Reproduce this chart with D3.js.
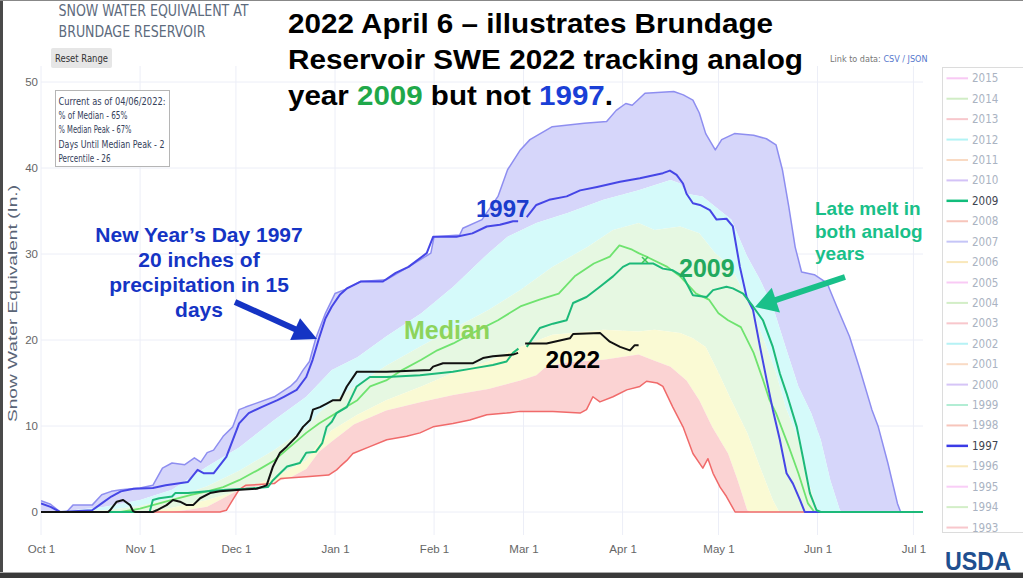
<!DOCTYPE html>
<html><head><meta charset="utf-8">
<script src="https://cdn.jsdelivr.net/npm/d3@7"></script>
<style>html,body{margin:0;padding:0;background:#fff;overflow:hidden}text{font-family:"Liberation Sans",Arial,sans-serif}</style>
</head><body>
<svg id="c" width="1023" height="578"></svg>
<script>
// ---------- DATA (x = days since Oct 1, y = SWE inches) ----------
const maxSWE = [[0,1.3],[3,0.9],[6,0],[8,0],[10,0.8],[16,0.8],[19,2.0],[22,2.4],[25,2.6],[31,2.8],[35,3.1],[38,5.1],[41,5.7],[45,5.5],[48,6.3],[50,5.8],[52,6.9],[54,7.2],[57,8.8],[60,9.9],[62,11.9],[64,12.2],[67,12.6],[73,13.4],[78,14.6],[80,15.3],[82,16.5],[84,17.5],[86,20.2],[89,23.1],[92,25.4],[96,26.0],[100,26.8],[108,27.0],[115,28.5],[122,30.1],[123,32.0],[131,32.2],[132,33.0],[138,34.0],[143,36.7],[146,39.8],[150,42.1],[153,43.3],[160,44.8],[170,45.2],[177,45.4],[180,46.7],[183,47.5],[185,47.3],[189,48.7],[198,48.9],[201,48.5],[204,47.9],[206,46.4],[208,44.0],[211,42.1],[213,43.3],[217,44.0],[223,43.8],[227,43.4],[230,42.7],[232,39.8],[234,35.5],[236,30.8],[238,27.9],[242,27.6],[246,26.6],[249,23.9],[253,20.4],[256,16.9],[260,11.9],[262,9.9],[265,5.7],[268,1.0],[269,0],[276,0]];
const p90 = [[0,0],[10,0.2],[20,0.6],[31,1.4],[41,2.6],[52,5.3],[62,7.5],[73,10.7],[83,13.4],[91,16.5],[99,18.0],[108,20.4],[119,23.1],[129,26.2],[140,30.1],[146,32.0],[155,33.6],[165,34.8],[176,36.3],[187,37.4],[197,38.6],[200,38.2],[202,37.0],[207,36.7],[211,35.5],[216,34.0],[221,29.7],[225,27.0],[229,23.9],[233,19.2],[237,14.6],[241,11.5],[244,8.4],[247,3.7],[250,0.2],[251,0],[276,0]];
const p70 = [[0,0],[20,0.2],[31,0.7],[41,1.6],[52,3.0],[62,4.8],[73,7.2],[83,9.8],[87,11.5],[91,12.8],[99,14.8],[108,17.0],[119,19.3],[129,21.3],[140,23.5],[150,25.8],[160,28.5],[171,30.8],[179,32.8],[187,33.6],[192,32.8],[200,33.2],[206,32.4],[211,30.1],[216,28.5],[219,26.2],[223,23.1],[227,19.2],[230,16.2],[233,12.2],[237,8.4],[240,3.7],[243,0.2],[244,0],[276,0]];
const medianSWE = [[0,0],[25,0],[31,0.4],[35,0.8],[41,1.4],[47,2.0],[52,2.4],[57,2.9],[62,3.7],[68,4.9],[73,6.0],[78,7.6],[83,9.2],[87,10.3],[91,11.2],[94,11.9],[99,13.0],[103,14.6],[108,15.3],[113,16.5],[119,17.7],[124,18.8],[129,19.6],[135,20.8],[143,22.3],[150,23.9],[156,24.7],[162,25.4],[167,27.4],[173,28.9],[178,29.7],[181,31.0],[185,30.5],[187,30.1],[190,29.6],[196,28.5],[200,27.4],[205,25.4],[209,24.7],[212,23.1],[215,22.3],[219,21.5],[223,18.5],[226,15.3],[228,13.0],[230,11.5],[234,7.6],[237,4.5],[240,1.0],[242,0],[276,0]];
const p30 = [[0,0],[30,0],[36,0.2],[41,0.5],[52,1.4],[62,2.5],[73,4.0],[83,6.0],[87,8.0],[91,9.5],[99,11.3],[108,13.0],[119,14.6],[129,16.2],[140,17.5],[150,19.2],[160,20.6],[171,21.0],[176,21.2],[187,21.0],[192,21.2],[200,20.8],[204,20.2],[208,19.2],[212,16.2],[216,13.0],[221,9.2],[225,5.2],[229,1.4],[231,0],[276,0]];
const p10 = [[0,0],[40,0],[45,0.2],[52,0.6],[57,1.6],[62,2.6],[68,3.0],[73,3.5],[78,4.0],[83,5.0],[87,7.0],[91,8.2],[98,10.2],[108,11.8],[119,12.8],[129,13.6],[140,14.3],[150,15.3],[155,15.9],[158,16.9],[165,17.4],[176,17.7],[187,18.3],[192,17.6],[197,16.9],[202,15.3],[206,13.0],[210,9.9],[215,6.8],[218,3.7],[221,0.2],[222,0],[276,0]];
const minSWE = [[0,0],[56,0],[58,0.2],[60,1.4],[62,2.6],[64,3.1],[73,3.3],[75,3.9],[83,4.1],[90,4.3],[92.5,4.9],[93.6,5.3],[95.7,6.0],[97.6,6.8],[102.9,7.6],[108.2,8.4],[114.4,8.8],[118.6,9.2],[122.7,9.9],[128.9,10.3],[134.2,10.7],[139.5,11.3],[145.7,11.5],[149.9,11.7],[160.2,11.7],[168.7,11.5],[170.7,11.9],[172.7,13.4],[174.9,12.8],[179,13.4],[183.3,14.2],[187.4,14.6],[189.5,15.2],[192.8,15.0],[194.6,14.6],[197.7,12.2],[200.9,9.9],[204,6.8],[207.1,5.1],[208.7,6.2],[210.3,4.5],[212.5,2.9],[214.5,1.8],[217.2,0],[276,0]];
const y1997 = [[0,1.0],[3,0.6],[6,0],[16,0.2],[19,1.0],[22,1.8],[25,2.4],[29,2.7],[35,2.8],[39,3.1],[46,3.5],[49,4.9],[51,4.5],[54,4.5],[58,6.4],[62,10.3],[65,11.5],[69,12.2],[74,13.0],[76,13.4],[80,14.2],[83,15.7],[85,17.7],[87,20.2],[89,22.5],[91,23.9],[93.6,25.3],[95.7,26.0],[100,26.8],[107,26.8],[111,27.8],[115,28.5],[120.7,30.1],[122.7,32.0],[130,32.0],[135,32.4],[139.5,33.2],[143.6,33.4],[147.7,33.8],[149.3,33.8],[150.3,null],[152,34.3],[155,35.7],[159,36.3],[164.5,36.7],[168.7,37.4],[174,37.8],[181.2,38.4],[187.4,38.8],[194.6,39.4],[196.8,39.7],[198.9,39.2],[200.9,38.2],[202,37.0],[204,35.9],[206.2,35.7],[209.3,35.1],[211.4,34.0],[214.5,34.1],[216.5,33.2],[218.7,28.5],[220.8,25.0],[222.8,23.5],[225,19.2],[227.1,15.3],[229,11.9],[231.2,8.4],[233.3,4.5],[235.3,3.3],[237.5,1.4],[239,0],[276,0]];
const y2009 = [[0,0],[34,0],[35,1.4],[37,1.6],[41,1.8],[42,2.2],[46,2.2],[52,2.4],[58,2.6],[64,2.7],[71,2.9],[72.6,3.7],[77,5.3],[81,5.7],[83,6.9],[86,7.0],[88,8.0],[89.4,9.9],[91,10.5],[92.5,11.5],[95.7,12.2],[98.8,14.6],[102.9,15.7],[108.2,15.7],[118.6,15.9],[128.9,16.3],[135.2,16.7],[141.4,17.1],[145.7,17.5],[147.7,18.5],[149.4,19.0],[150.6,null],[152,19.2],[156.1,21.4],[160.2,21.9],[164.5,22.3],[166.5,24.3],[170.7,25.0],[174.9,26.2],[179,27.4],[182.1,28.5],[184.3,28.9],[187.4,28.9],[191.5,28.9],[194.6,28.3],[197.7,28.1],[200.9,27.4],[204,25.2],[208.3,25.0],[210.3,25.8],[214.5,26.2],[216.5,26.0],[219.7,25.4],[222.8,23.9],[225.9,22.3],[229,19.2],[231.2,16.1],[233.3,13.8],[236.5,9.9],[238.4,6.4],[240.6,2.2],[242.7,0.2],[244,0],[276,0]];
const y2022 = [[0,0],[21,0],[21.6,0.2],[23.7,1.2],[25.7,1.4],[27.9,0.8],[28.8,0.1],[29.5,0],[35,0],[36.2,0.2],[39.3,0.8],[41.3,1.4],[43.5,1.2],[45.6,0.8],[47.6,0.8],[49.8,1.6],[52.9,2.2],[56,2.4],[62.3,2.6],[67.5,2.7],[70.6,3.1],[72.6,5.3],[74.8,6.9],[76.9,7.6],[80,8.8],[82,9.9],[84.2,10.7],[85.1,11.9],[87.3,12.2],[89.4,12.6],[91.4,13.0],[93.6,13.0],[95.7,14.6],[98.8,16.3],[108.2,16.3],[121.7,16.5],[122.7,16.9],[125.8,17.3],[135.2,17.3],[138.3,17.9],[141.4,18.1],[147.7,18.3],[149.3,18.5],[150.4,null],[151.5,19.6],[158.2,19.6],[165.5,20.2],[166.5,20.7],[175,20.8],[178,19.8],[181.2,19.2],[184.3,18.8],[185.8,19.4],[187,19.4]];
const medianPeak = [[189,29.3]];
const legendYears = [2015,2014,2013,2012,2011,2010,2009,2008,2007,2006,2005,2004,2003,2002,2001,2000,1999,1998,1997,1996,1995,1994,1993];
const legendColors = ['#f4a6ee','#b3e2a0','#f4a3ab','#7fecef','#f6c29c','#b79af2','#12bd7c','#f3a08f','#a0a0f3','#f6d98e','#f6a8f0','#b6e4a3','#f4a3ab','#86eaf0','#f6c4a0','#bba0f3','#7fe2b8','#f3a08f','#3b3be6','#f6d98e','#f6aef2','#b6e4a3','#f4a3ab'];
const activeYears = [2009,1997];
const yTicks = [0,10,20,30,40,50];
const infoLines = ["Current as of 04/06/2022:","% of Median - 65%","% Median Peak - 67%","Days Until Median Peak - 2","Percentile - 26"];

// ---------- SETUP ----------
const svg = d3.select('#c');
const T0 = Date.UTC(2021,9,1);
const toDate = d => new Date(T0 + d*864e5);
const L=41, R=923, T=66, B=535;
const x = d3.scaleUtc().domain([toDate(0), toDate(276)]).range([L, R]);
const y = d3.scaleLinear().domain([0,50]).range([512,82]);
const px = d => [x(toDate(d[0])), y(d[1])];

svg.append('rect').attr('width',1023).attr('height',578).attr('fill','#fff');

// gridlines
const monthTicks = d3.utcMonth.range(toDate(0), toDate(277));
const grid = svg.append('g');
grid.selectAll('.vg').data(monthTicks).join('line')
  .attr('x1',d=>x(d)).attr('x2',d=>x(d)).attr('y1',T).attr('y2',B)
  .attr('stroke','#eceef7').attr('stroke-width',1);
grid.selectAll('.hg').data(yTicks).join('line')
  .attr('x1',L).attr('x2',R).attr('y1',d=>y(d)).attr('y2',d=>y(d))
  .attr('stroke','#eceef7').attr('stroke-width',1);

// clip
svg.append('clipPath').attr('id','pc').append('rect').attr('x',L).attr('y',T).attr('width',R-L).attr('height',B-T);
const plot = svg.append('g').attr('clip-path','url(#pc)');

function band(upper, lower){
  const u = upper.filter(d=>d[1]!=null).map(px);
  const l = lower.filter(d=>d[1]!=null).map(px).reverse();
  return d3.line()(u.concat(l)) + 'Z';
}
const bands = [[maxSWE,p90,'#d6d6fa'],[p90,p70,'#d5fafa'],[p70,p30,'#e6f8e2'],[p30,p10,'#fafad4'],[p10,minSWE,'#fbd3d3']];
plot.selectAll('.band').data(bands).join('path')
  .attr('d',d=>band(d[0],d[1])).attr('fill',d=>d[2]).attr('stroke','none');

const line = d3.line().defined(d=>d[1]!=null).x(d=>x(toDate(d[0]))).y(d=>y(d[1]));
const series = [
  [maxSWE,'#8e8ef0',1.5],
  [minSWE,'#f06a6a',1.5],
  [medianSWE,'#6fe36f',1.8],
  [y1997,'#4646e6',2],
  [y2009,'#1cb979',2],
  [y2022,'#111111',2]
];
plot.selectAll('.ln').data(series).join('path')
  .attr('d',d=>line(d[0])).attr('fill','none').attr('stroke',d=>d[1]).attr('stroke-width',d=>d[2]).attr('stroke-linejoin','round');

// median peak marker
plot.selectAll('.mk').data(medianPeak).join('path')
  .attr('d',d=>{const [a,b]=px(d);return `M${a-3},${b-3}L${a+3},${b+3}M${a+3},${b-3}L${a-3},${b+3}`;})
  .attr('stroke','#3cc85a').attr('stroke-width',1.6);

// axes
const ax = svg.append('g').attr('transform',`translate(0,${B})`)
  .call(d3.axisBottom(x).tickValues(monthTicks).tickFormat(d3.utcFormat('%b %-d')).tickSize(0).tickPadding(9.5));
ax.select('.domain').remove();
ax.selectAll('text').attr('fill','#666').attr('font-size',11.5).attr('font-family','"Liberation Sans",Arial,sans-serif');
const ay = svg.append('g').attr('transform',`translate(${L},0)`)
  .call(d3.axisLeft(y).tickValues(yTicks).tickSize(0).tickPadding(3));
ay.select('.domain').remove();
ay.selectAll('text').attr('fill','#666').attr('font-size',11.5).attr('font-family','"Liberation Sans",Arial,sans-serif');

svg.append('text').attr('transform','translate(17,303.5) rotate(-90)').attr('text-anchor','middle')
  .attr('font-size',13).attr('fill','#5a6577').attr('textLength',237).attr('lengthAdjust','spacingAndGlyphs')
  .text('Snow Water Equivalent (In.)');

// header
const nar = '"Liberation Sans Narrow","DejaVu Sans Condensed",Arial,sans-serif';
svg.append('text').attr('x',58.5).attr('y',15.7).attr('font-size',16).attr('fill','#5d6b7d').style('font-family',nar)
  .attr('textLength',190).attr('lengthAdjust','spacingAndGlyphs').text('SNOW WATER EQUIVALENT AT');
svg.append('text').attr('x',58.5).attr('y',37.3).attr('font-size',16).attr('fill','#5d6b7d').style('font-family',nar)
  .attr('textLength',147).attr('lengthAdjust','spacingAndGlyphs').text('BRUNDAGE RESERVOIR');
svg.append('rect').attr('x',51).attr('y',48).attr('width',61).attr('height',20).attr('rx',2).attr('fill','#e6e6e6');
svg.append('text').attr('x',55).attr('y',61.7).attr('font-size',11).attr('fill','#333').style('font-family',nar)
  .attr('textLength',53).attr('lengthAdjust','spacingAndGlyphs').text('Reset Range');

// info box
svg.append('rect').attr('x',55.5).attr('y',90.5).attr('width',114).attr('height',76).attr('fill','#fff').attr('stroke','#b5b5b5');
const infoW = [107,69,73,106,52];
svg.selectAll('.info').data(infoLines).join('text')
  .attr('x',58.5).attr('y',(d,i)=>105+i*14.2).attr('font-size',10).attr('fill','#34405a').style('font-family',nar)
  .attr('textLength',(d,i)=>infoW[i]).attr('lengthAdjust','spacingAndGlyphs').text(d=>d);

// link to data
const lk = svg.append('text').attr('x',830).attr('y',62).attr('font-size',9).style('font-family',nar);
lk.append('tspan').attr('fill','#777').text('Link to data: ');
lk.append('tspan').attr('fill','#5577cc').text('CSV / JSON');

// legend
svg.append('rect').attr('x',942.5).attr('y',67.5).attr('width',100).attr('height',465).attr('fill','#fff').attr('stroke','#dcdcdc');
const lg = svg.selectAll('.lg').data(legendYears).join('g').attr('transform',(d,i)=>`translate(0,${78.3+i*20.42})`);
lg.append('line').attr('x1',946.5).attr('x2',968).attr('stroke',(d,i)=>legendColors[i])
  .attr('stroke-width',d=>activeYears.includes(d)?2.5:2).attr('opacity',d=>activeYears.includes(d)?1:0.6);
lg.append('text').attr('x',972).attr('dy','0.35em').attr('font-size',11.5).style('font-family',nar)
  .attr('fill',d=>activeYears.includes(d)?'#3d4450':'#aab3c2').text(d=>d);

// USDA
svg.append('text').attr('x',945).attr('y',570).attr('font-size',25).attr('font-weight','bold').attr('fill','#1f4f8f')
  .attr('textLength',66).attr('lengthAdjust','spacingAndGlyphs').text('USDA');

// title
const tl = [["2022 April 6 – illustrates Brundage",33,485],["Reservoir SWE 2022 tracking analog",69,515]];
tl.forEach(t=>svg.append('text').attr('x',288).attr('y',t[1]).attr('font-size',28).attr('font-weight','bold').attr('fill','#000')
  .attr('textLength',t[2]).attr('lengthAdjust','spacingAndGlyphs').text(t[0]));
const t3 = svg.append('text').attr('x',288).attr('y',105).attr('font-size',28).attr('font-weight','bold').attr('fill','#000')
  .attr('textLength',325).attr('lengthAdjust','spacingAndGlyphs');
t3.append('tspan').text('year ');
t3.append('tspan').attr('fill','#1fa84a').text('2009');
t3.append('tspan').text(' but not ');
t3.append('tspan').attr('fill','#1a3fd6').text('1997');
t3.append('tspan').text('.');

// annotations
const blue='#1534c4', teal='#19c089';
[["New Year’s Day 1997",241.7],["20 inches of",267],["precipitation in 15",291.7],["days",316.7]].forEach(a=>
  svg.append('text').attr('x',199).attr('y',a[1]).attr('text-anchor','middle').attr('font-size',21).attr('font-weight','bold').attr('fill',blue).text(a[0]));
svg.append('text').attr('x',476).attr('y',216.7).attr('font-size',24).attr('font-weight','bold').attr('fill','#1a3ccc').text('1997');
svg.append('text').attr('x',404).attr('y',339.3).attr('font-size',25).attr('font-weight','bold').attr('fill','#8dd45c').text('Median');
svg.append('text').attr('x',545.5).attr('y',368.3).attr('font-size',24.5).attr('font-weight','bold').attr('fill','#000').text('2022');
svg.append('text').attr('x',679).attr('y',277.3).attr('font-size',25).attr('font-weight','bold').attr('fill','#22a95e').text('2009');
[["Late melt in",215],["both analog",238],["years",260]].forEach(a=>
  svg.append('text').attr('x',815).attr('y',a[1]).attr('font-size',19).attr('font-weight','bold').attr('fill',teal).text(a[0]));

function arrow(x0,y0,x1,y1,color,hl,hw,sw){
  const dx=x1-x0, dy=y1-y0, len=Math.hypot(dx,dy), ux=dx/len, uy=dy/len;
  const bx=x1-ux*hl, by=y1-uy*hl, nx=-uy, ny=ux;
  svg.append('line').attr('x1',x0).attr('y1',y0).attr('x2',bx+ux*2).attr('y2',by+uy*2).attr('stroke',color).attr('stroke-width',sw);
  svg.append('path').attr('d',`M${x1},${y1}L${bx+nx*hw},${by+ny*hw}L${bx-nx*hw},${by-ny*hw}Z`).attr('fill',color);
}
arrow(235,302,317,339,blue,24,12,6);
arrow(845,277,755,307,teal,22,13,6);

// frame
svg.append('rect').attr('x',0).attr('y',0).attr('width',3).attr('height',578).attr('fill','#4a4a4a');
svg.append('rect').attr('x',0).attr('y',0).attr('width',1023).attr('height',1).attr('fill','#888');
svg.append('rect').attr('x',0).attr('y',572).attr('width',1023).attr('height',1).attr('fill','#aaa');
svg.append('rect').attr('x',0).attr('y',573).attr('width',1023).attr('height',5).attr('fill','#3a3a3a');
</script>
</body></html>
